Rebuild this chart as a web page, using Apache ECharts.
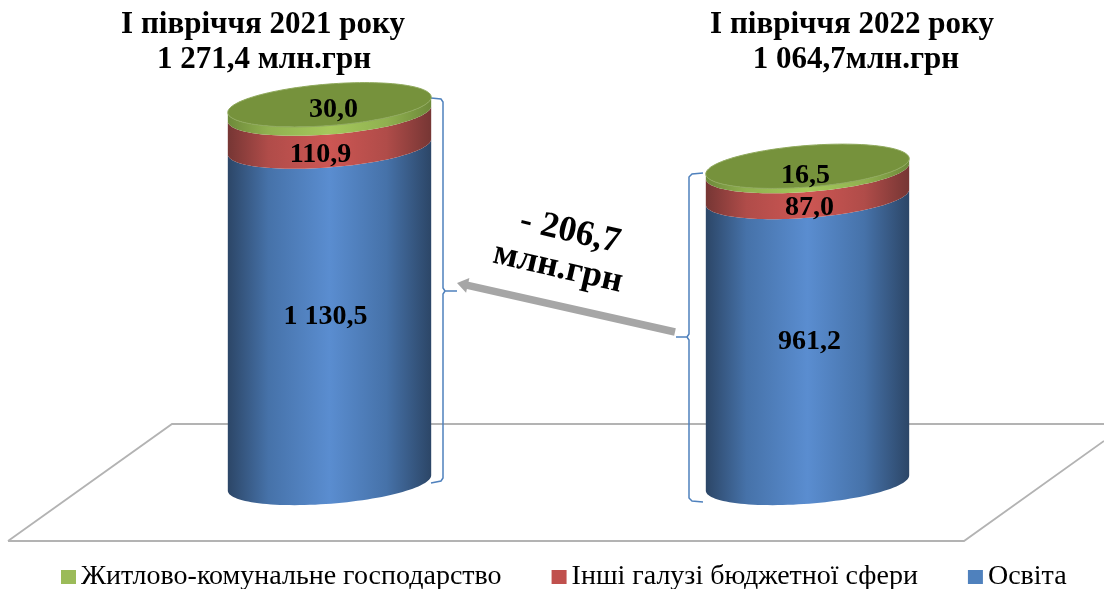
<!DOCTYPE html>
<html>
<head>
<meta charset="utf-8">
<style>
  html, body { margin: 0; padding: 0; background: #fff; }
  #chart { width: 1104px; height: 589px; }
</style>
<script src="https://cdn.jsdelivr.net/npm/echarts@6/dist/echarts.min.js"></script>
</head>
<body>
<div id="chart"></div>
<script>
// дані
const periods = ['I півріччя 2021 року', 'I півріччя 2022 року'];
const totals = ['1 271,4 млн.грн', '1 064,7млн.грн'];
const osvita = [1130.5, 961.2];
const inshi = [110.9, 87.0];
const zhytlovo = [30.0, 16.5];
const seriesNames = ['Освіта', 'Інші галузі бюджетної сфери', 'Житлово-комунальне господарство'];
const diffValue = '- 206,7';
const diffUnit = 'млн.грн';

// геометрія циліндра
const TILT = 4.5 * Math.PI / 180;
const RADIUS_K = 0.2134;
const MINOR_K = 0.203;
// зсув підписів відносно середини сегмента [dx, dy]
const labelShift = [
  [[-4, 2], [2, 2]],
  [[-9, 25], [2, 24]],
  [[4, 1], [-2, 7]]
];
const sideColors = [
  ['#2c4667', '#4672a9', '#5a8dd0', '#4672a9', '#2c4667'],
  ['#763634', '#b04c49', '#cd5653', '#b04c49', '#763634'],
  ['#6e8a3a', '#90b150', '#a5c85c', '#90b150', '#6e8a3a']
];
const legendColors = ['#4f81bd', '#c0504d', '#9bbb59'];
const topColor = '#76923c';

function fmt(v) {
  const s = v.toFixed(1).replace('.', ',');
  return s.replace(/^(\d+)(\d{3})/, '$1 $2');
}

function sideGradient(colors) {
  return new echarts.graphic.LinearGradient(0, 0, 1, 0, [
    { offset: 0, color: colors[0] },
    { offset: 0.2, color: colors[1] },
    { offset: 0.5, color: colors[2] },
    { offset: 0.78, color: colors[3] },
    { offset: 1, color: colors[4] }
  ]);
}

function ellipsePoint(cx, cy, a, b, t) {
  const c = Math.cos(t) * a;
  const s = Math.sin(t) * b;
  return [
    cx + c * Math.cos(TILT) + s * Math.sin(TILT),
    cy - c * Math.sin(TILT) + s * Math.cos(TILT)
  ];
}

function makeRenderItem(seriesIdx) {
  return function (params, api) {
    const cat = api.value(0);
    const base = api.coord([cat, api.value(1)]);
    const top = api.coord([cat, api.value(2)]);
    const a = api.size([1, 0])[0] * RADIUS_K;
    const b = a * MINOR_K;
    const cx = base[0];
    const pts = [];
    for (let i = 0; i <= 60; i++) {
      pts.push(ellipsePoint(cx, top[1], a, b, Math.PI - Math.PI * i / 60));
    }
    for (let i = 0; i <= 60; i++) {
      pts.push(ellipsePoint(cx, base[1], a, b, Math.PI * i / 60));
    }
    const children = [{
      type: 'polygon',
      shape: { points: pts },
      style: { fill: sideGradient(sideColors[seriesIdx]) }
    }];
    // верхня кришка
    if (seriesIdx === 2) {
      const lid = [];
      for (let i = 0; i < 120; i++) {
        lid.push(ellipsePoint(cx, top[1], a, b, Math.PI * 2 * i / 120));
      }
      children.push({
        type: 'polygon',
        shape: { points: lid },
        style: { fill: topColor, stroke: '#8fa95c', lineWidth: 1 }
      });
    }
    const shift = labelShift[seriesIdx][cat];
    children.push({
      type: 'text',
      style: {
        text: fmt(api.value(3)),
        x: cx + shift[0],
        y: (base[1] + top[1]) / 2 + shift[1],
        align: 'center',
        verticalAlign: 'middle',
        font: 'bold 28px "Liberation Serif"',
        fill: '#000'
      }
    });
    return { type: 'group', children };
  };
}

function stackData(values, lowers) {
  return values.map((v, i) => {
    const low = lowers.reduce((sum, arr) => sum + arr[i], 0);
    return [i, low, low + v, v];
  });
}

const stacks = [
  stackData(osvita, []),
  stackData(inshi, [osvita]),
  stackData(zhytlovo, [osvita, inshi])
];

function titleText(text, x, y) {
  return {
    type: 'text',
    style: {
      text, x, y,
      align: 'center',
      verticalAlign: 'middle',
      font: 'bold 31px "Liberation Serif"',
      fill: '#000'
    }
  };
}

function line(points, stroke, lineWidth) {
  return { type: 'polyline', shape: { points }, style: { stroke, lineWidth, fill: 'none' } };
}

// стрілка від хвоста до вістря
function arrow(from, to, w, headLen, headW) {
  const dx = to[0] - from[0];
  const dy = to[1] - from[1];
  const len = Math.hypot(dx, dy);
  const ux = dx / len, uy = dy / len;
  const nx = -uy, ny = ux;
  const bx = to[0] - ux * headLen, by = to[1] - uy * headLen;
  return {
    type: 'polygon',
    shape: {
      points: [
        [from[0] + nx * w, from[1] + ny * w],
        [bx + nx * w, by + ny * w],
        [bx + nx * headW, by + ny * headW],
        to,
        [bx - nx * headW, by - ny * headW],
        [bx - nx * w, by - ny * w],
        [from[0] - nx * w, from[1] - ny * w]
      ]
    },
    style: { fill: '#a6a6a6' }
  };
}

const chart = echarts.init(document.getElementById('chart'));
const floorColor = '#b3b3b3';
const braceColor = '#4f81bd';

chart.setOption({
  backgroundColor: '#fff',
  animation: false,
  grid: { left: 90.5, width: 956, top: 7, height: 476 },
  xAxis: { type: 'category', data: periods, show: false },
  yAxis: { type: 'value', min: 0, max: 1600, show: false },
  legend: {
    left: 56,
    top: 558,
    itemWidth: 15,
    itemHeight: 14,
    itemGap: 50,
    icon: 'rect',
    selectedMode: false,
    data: seriesNames.slice().reverse(),
    textStyle: { fontFamily: 'Liberation Serif', fontSize: 28, color: '#000' }
  },
  graphic: [
    line([[8, 541], [172, 424], [1104, 424]], floorColor, 1.8),
    line([[8, 541], [964, 541], [1104, 441]], floorColor, 1.8),
    titleText(periods[0], 263, 25),
    titleText(totals[0], 264, 60),
    titleText(periods[1], 852, 25),
    titleText(totals[1], 856, 60),
    line([[431, 98], [441, 99], [443, 102], [443, 288], [445, 291], [457, 291], [445, 291], [443, 294], [443, 478], [441, 481], [431, 483]], braceColor, 1.5),
    line([[703, 173], [692, 174], [689, 177], [689, 334], [687, 337], [676, 337], [687, 337], [689, 340], [689, 498], [692, 501], [703, 502]], braceColor, 1.5),
    arrow([675, 332], [457, 283], 3.8, 11, 7.5),
    {
      type: 'text',
      x: 570, y: 232,
      rotation: -13 * Math.PI / 180,
      style: {
        text: diffValue, x: 0, y: 0,
        align: 'center', verticalAlign: 'middle',
        font: 'bold 36px "Liberation Serif"', fill: '#000'
      }
    },
    {
      type: 'text',
      x: 558, y: 268,
      rotation: -13 * Math.PI / 180,
      style: {
        text: diffUnit, x: 0, y: 0,
        align: 'center', verticalAlign: 'middle',
        font: 'bold 36px "Liberation Serif"', fill: '#000'
      }
    }
  ],
  series: seriesNames.map((name, i) => ({
    name,
    type: 'custom',
    coordinateSystem: 'cartesian2d',
    renderItem: makeRenderItem(i),
    encode: { x: 0, y: [1, 2] },
    itemStyle: { color: legendColors[i] },
    data: stacks[i]
  }))
});

window.addEventListener('resize', () => chart.resize());
</script>
</body>
</html>
